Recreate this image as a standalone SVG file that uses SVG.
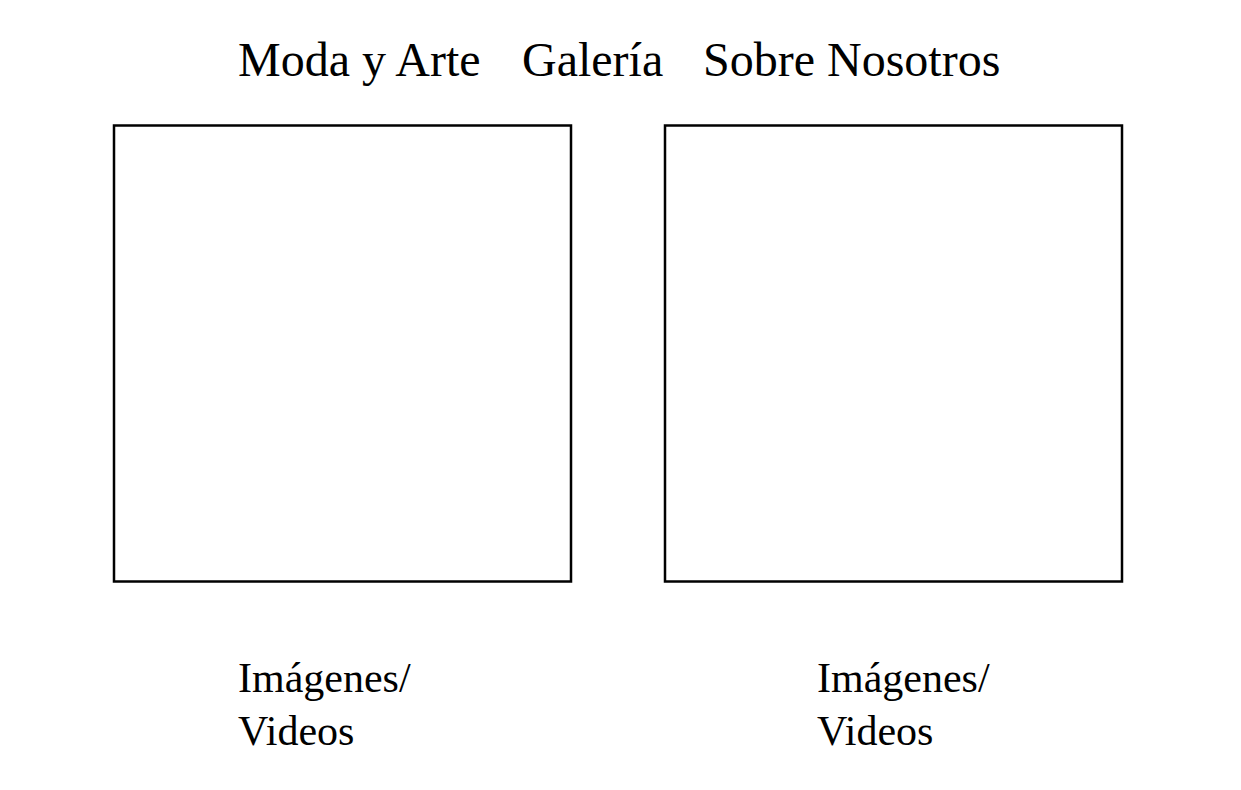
<svg xmlns="http://www.w3.org/2000/svg" width="1241" height="790" viewBox="0 0 1241 790">
<style>
.t{font-family:"Liberation Serif","Times New Roman",serif;fill:#000}
.h{font-size:48px}
.l{font-size:42px}
.box{fill:#fff;stroke:#000;stroke-width:2.5}
</style>
<rect width="1241" height="790" fill="#fff"/>
<g id="nav">
<text class="t h" x="238" y="76">Moda y Arte</text>
<text class="t h" x="522" y="76">Galería</text>
<text class="t h" x="703" y="76">Sobre Nosotros</text>
</g>
<g id="box1"><rect class="box" x="114" y="125.5" width="457" height="456"/></g>
<g id="box2"><rect class="box" x="665" y="125.5" width="457" height="456"/></g>
<g id="label1"><text class="t l" x="238" y="692">Imágenes/</text><text class="t l" x="238" y="745">Videos</text></g>
<g id="label2"><text class="t l" x="817" y="692">Imágenes/</text><text class="t l" x="817" y="745">Videos</text></g>
<g id="connectors"/>
</svg>
